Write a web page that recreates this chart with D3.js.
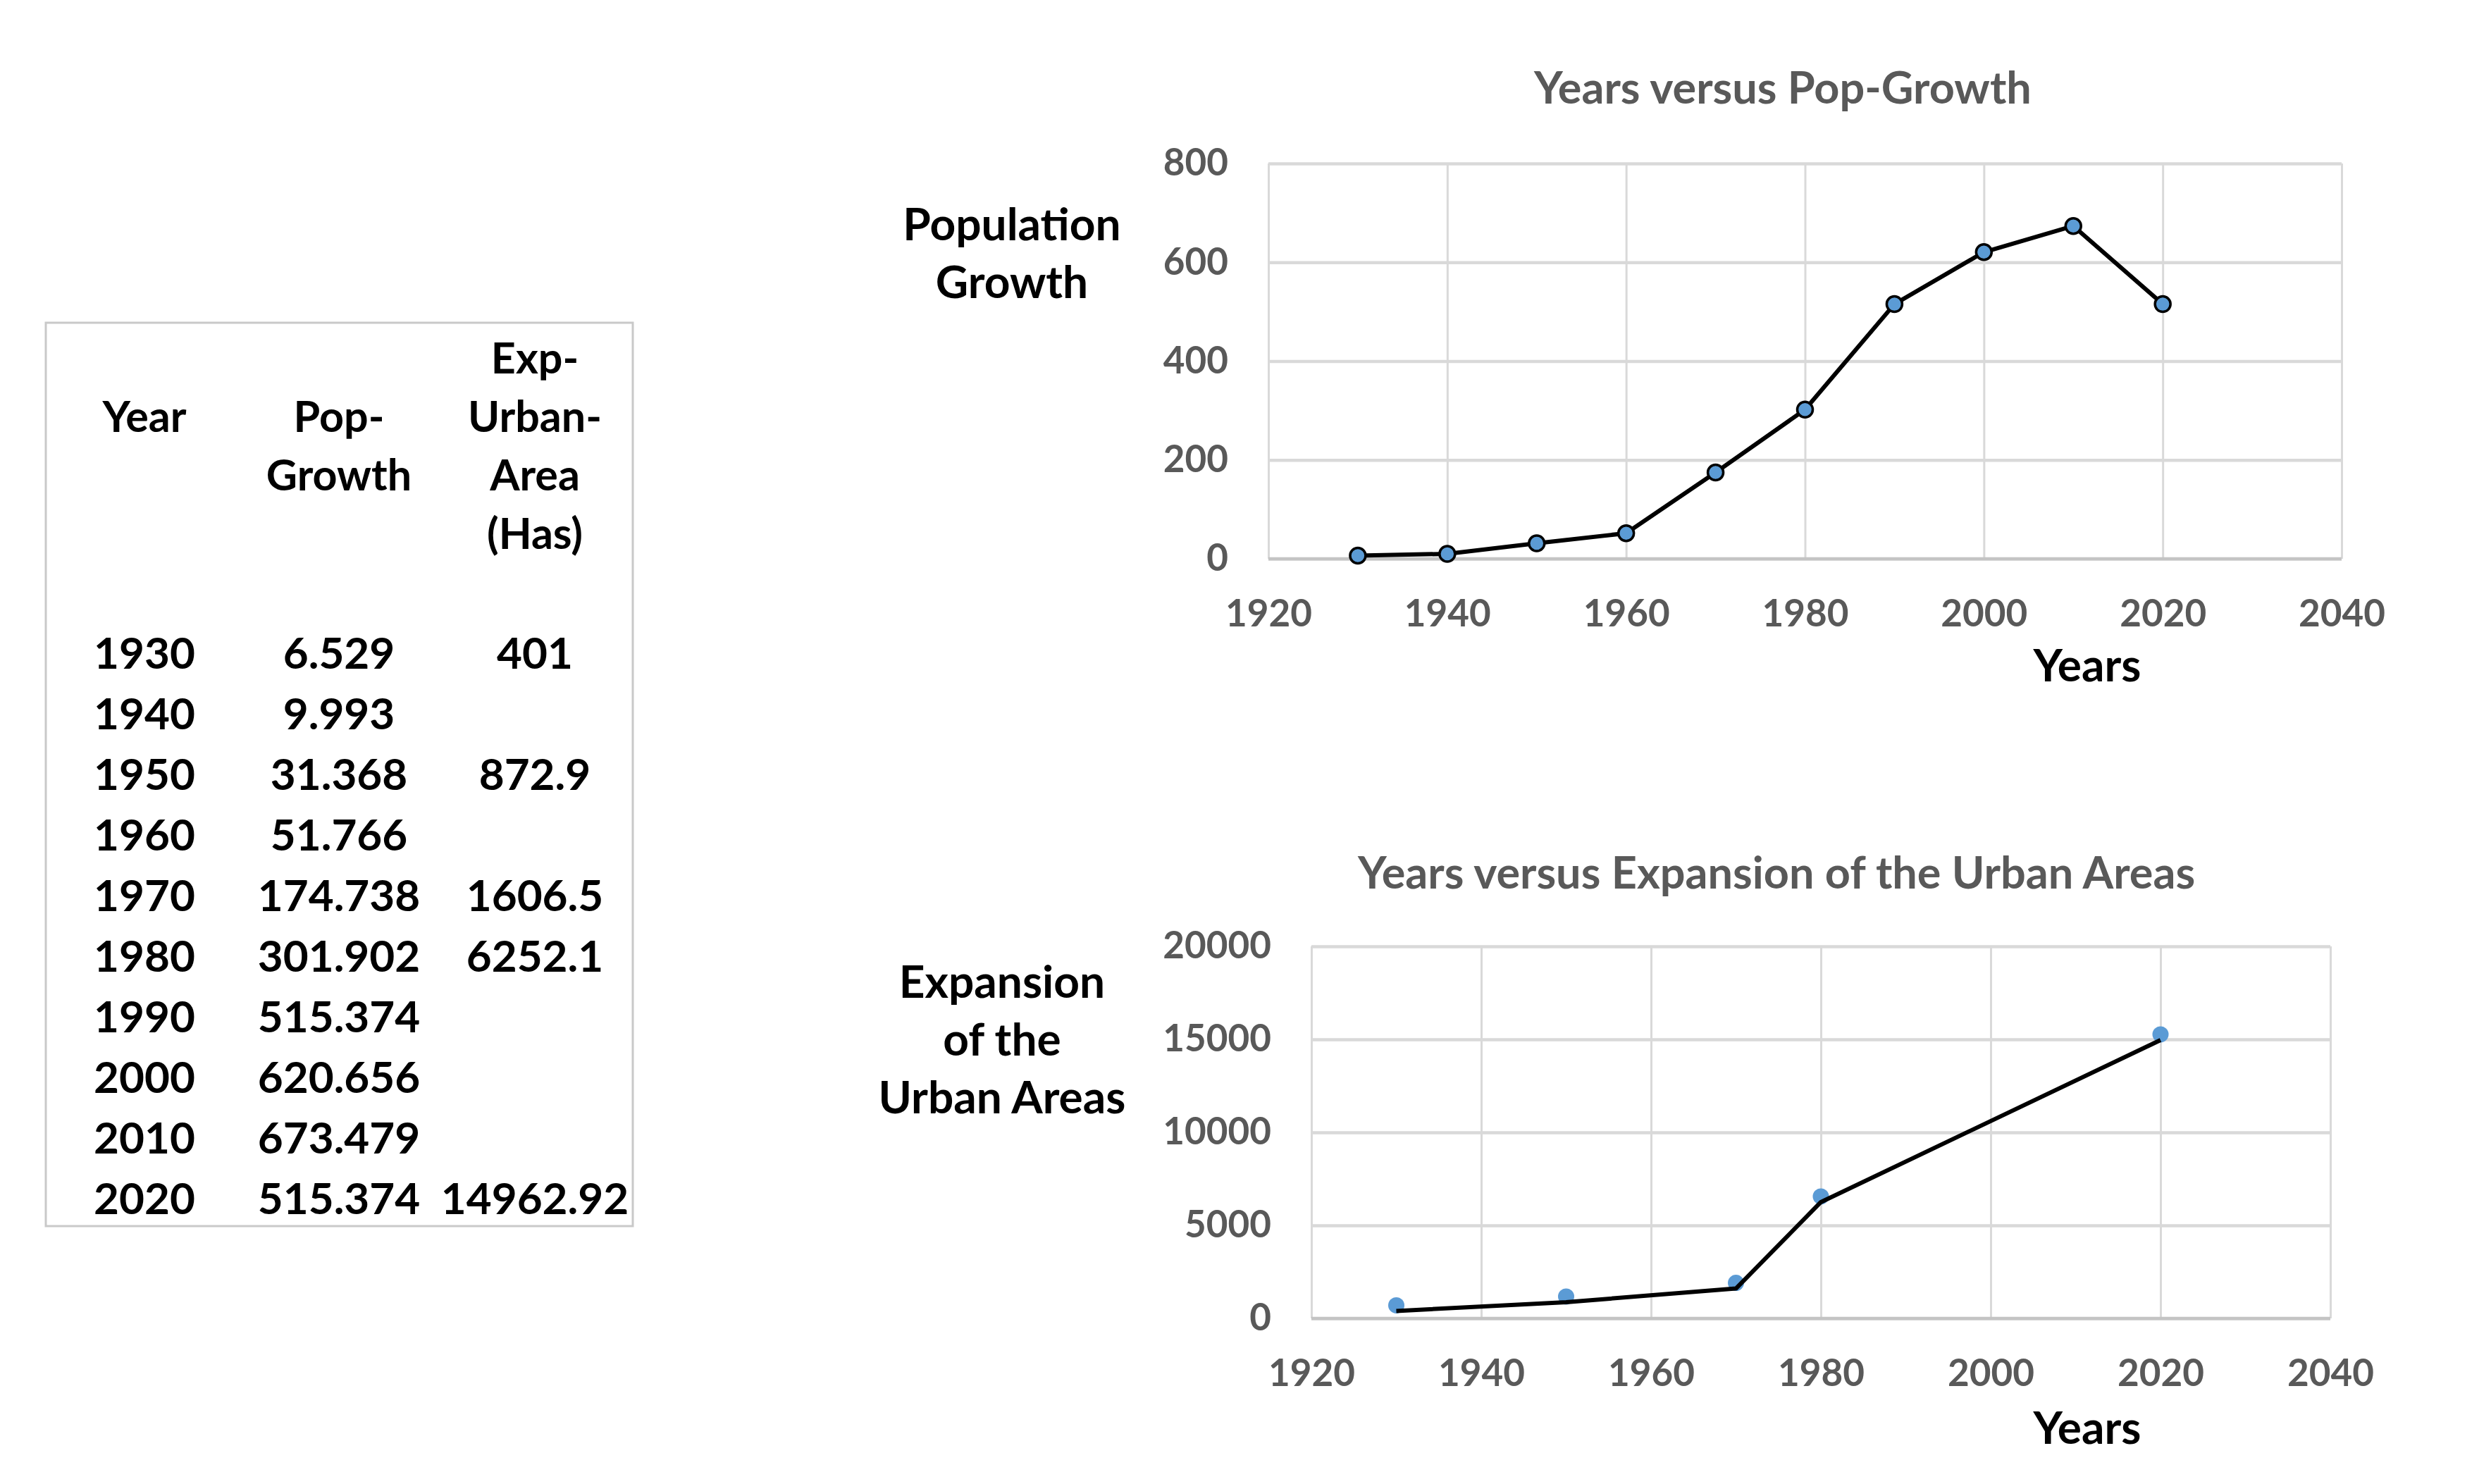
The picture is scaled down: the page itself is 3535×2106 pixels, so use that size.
<!DOCTYPE html>
<html>
<head>
<meta charset="utf-8">
<script src="https://cdn.jsdelivr.net/npm/d3@7"></script>
<style>
  html, body { margin: 0; padding: 0; background: #fff; }
  svg { display: block; }
  text { font-family: Lato, "Open Sans", sans-serif; font-weight: bold; }
</style>
</head>
<body>
<svg id="fig" width="3535" height="2106"></svg>
<script>
/*************************** Data ***************************/
var years = [1930, 1940, 1950, 1960, 1970, 1980, 1990, 2000, 2010, 2020];
var popGrowth = [6.529, 9.993, 31.368, 51.766, 174.738, 301.902, 515.374, 620.656, 673.479, 515.374];
var urbanYears = [1930, 1950, 1970, 1980, 2020];
var urbanArea = [401, 872.9, 1606.5, 6252.1, 14962.92];
var urbanLabels = ["401", "872.9", "1606.5", "6252.1", "14962.92"];
var xTicks = [1920, 1940, 1960, 1980, 2000, 2020, 2040];
var popTicks = [0, 200, 400, 600, 800];
var urbanTicks = [0, 5000, 10000, 15000, 20000];

var svg = d3.select("#fig");

/*************************** Table ***************************/
var table = svg.append("g").attr("id", "data_table");
table.append("rect")
    .attr("x", 65).attr("y", 458)
    .attr("width", 833).attr("height", 1282)
    .attr("fill", "none").attr("stroke", "#c9c9c9").attr("stroke-width", 3);

var colX = [205, 481, 759];
var headers = [["Year"], ["Pop-", "Growth"], ["Exp-", "Urban-", "Area", "(Has)"]];
var headerStart = [1, 1, 0];   // line index where each header begins
headers.forEach(function(lines, c) {
    lines.forEach(function(s, i) {
        table.append("text")
            .attr("x", colX[c])
            .attr("y", 530 + (headerStart[c] + i) * 83)
            .attr("text-anchor", "middle")
            .attr("font-size", 61)
            .attr("fill", "#000")
            .text(s);
    });
});

var rowY = d3.scaleLinear().domain([0, 9]).range([949, 949 + 9 * 86]);
years.forEach(function(yr, i) {
    var k = urbanYears.indexOf(yr);
    var cells = [String(yr), d3.format(".3f")(popGrowth[i]), k >= 0 ? urbanLabels[k] : ""];
    cells.forEach(function(s, c) {
        table.append("text")
            .attr("x", colX[c]).attr("y", rowY(i))
            .attr("text-anchor", "middle")
            .attr("font-size", 62)
            .attr("fill", "#000")
            .text(s);
    });
});

/*************************** Chart helper ***************************/
function draw_chart(cfg)
{
    var g = svg.append("g").attr("id", cfg.id);
    var x = d3.scaleLinear().domain([1920, 2040]).range([cfg.left, cfg.right]);
    var y = d3.scaleLinear().domain(cfg.yDomain).range([cfg.bottom, cfg.top]);

    // vertical grid
    g.append("g")
        .attr("transform", "translate(0," + cfg.bottom + ")")
        .call(d3.axisBottom(x).tickValues(xTicks).tickSize(-(cfg.bottom - cfg.top)).tickFormat(""))
        .call(function(a) { a.select(".domain").remove(); })
        .selectAll("line").attr("stroke", "#d9d9d9").attr("stroke-width", 3);

    // horizontal grid
    g.append("g")
        .attr("transform", "translate(" + cfg.left + ",0)")
        .call(d3.axisLeft(y).tickValues(cfg.yTicks).tickSize(-(cfg.right - cfg.left)).tickFormat(""))
        .call(function(a) { a.select(".domain").remove(); })
        .selectAll("line").attr("stroke", "#d9d9d9").attr("stroke-width", 4.5);

    // baseline
    g.append("line")
        .attr("x1", cfg.left).attr("x2", cfg.right)
        .attr("y1", y(0)).attr("y2", y(0))
        .attr("stroke", "#c4c4c4").attr("stroke-width", 4.5);

    // tick labels
    var xa = g.append("g")
        .attr("transform", "translate(0," + cfg.bottom + ")")
        .call(d3.axisBottom(x).tickValues(xTicks).tickSize(0).tickPadding(58).tickFormat(d3.format("d")));
    xa.select(".domain").remove();
    xa.selectAll("text").attr("font-size", 53).attr("fill", "#595959")
        .attr("font-family", "Lato, sans-serif");

    var ya = g.append("g")
        .attr("transform", "translate(" + cfg.left + ",0)")
        .call(d3.axisLeft(y).tickValues(cfg.yTicks).tickSize(0).tickPadding(57).tickFormat(d3.format("d")));
    ya.select(".domain").remove();
    ya.selectAll("text").attr("font-size", 53).attr("fill", "#595959")
        .attr("font-family", "Lato, sans-serif");

    // title
    g.append("text")
        .attr("x", cfg.titleX).attr("y", cfg.titleY)
        .attr("text-anchor", "middle")
        .attr("font-size", 63)
        .attr("fill", "#595959")
        .text(cfg.title);

    // y axis title
    var yt = g.append("text")
        .attr("text-anchor", "middle")
        .attr("font-size", 64)
        .attr("fill", "#000");
    cfg.yTitle.forEach(function(s, i) {
        yt.append("tspan").attr("x", cfg.yTitleX).attr("y", cfg.yTitleY + i * 82).text(s);
    });

    // x axis title
    g.append("text")
        .attr("x", cfg.xTitleX).attr("y", cfg.xTitleY)
        .attr("text-anchor", "middle")
        .attr("font-size", 64)
        .attr("fill", "#000")
        .text("Years");

    var pts = cfg.xs.map(function(d, i) { return { yr: d, v: cfg.vs[i] }; });
    var line = d3.line().x(function(d) { return x(d.yr); }).y(function(d) { return y(d.v); });

    if (cfg.markerBorder) {
        g.append("path").datum(pts)
            .attr("d", line)
            .attr("fill", "none").attr("stroke", "#000").attr("stroke-width", 6)
            .attr("stroke-linejoin", "round");
        g.selectAll("circle.pt").data(pts).enter().append("circle")
            .attr("class", "pt")
            .attr("cx", function(d) { return x(d.yr); })
            .attr("cy", function(d) { return y(d.v); })
            .attr("r", 11)
            .attr("fill", "#5b9bd5").attr("stroke", "#000").attr("stroke-width", 3.5);
    } else {
        g.selectAll("circle.pt").data(pts).enter().append("circle")
            .attr("class", "pt")
            .attr("cx", function(d) { return x(d.yr); })
            .attr("cy", function(d) { return y(d.v) - 8; })
            .attr("r", 11.5)
            .attr("fill", "#5b9bd5");
        g.append("path").datum(pts)
            .attr("d", line)
            .attr("fill", "none").attr("stroke", "#000").attr("stroke-width", 6)
            .attr("stroke-linejoin", "round");
    }
}

/*************************** Charts ***************************/
draw_chart({
    id: "pop_chart",
    left: 1800, right: 3323, top: 232, bottom: 793,
    yDomain: [0, 800], yTicks: popTicks,
    xs: years, vs: popGrowth,
    title: "Years versus Pop-Growth", titleX: 2530, titleY: 147,
    yTitle: ["Population", "Growth"], yTitleX: 1436, yTitleY: 341,
    xTitleX: 2962, xTitleY: 967,
    markerBorder: true
});

draw_chart({
    id: "urban_chart",
    left: 1861, right: 3307, top: 1343, bottom: 1871,
    yDomain: [0, 20000], yTicks: urbanTicks,
    xs: urbanYears, vs: urbanArea,
    title: "Years versus Expansion of the Urban Areas", titleX: 2521, titleY: 1261,
    yTitle: ["Expansion", "of the", "Urban Areas"], yTitleX: 1422, yTitleY: 1416,
    xTitleX: 2962, xTitleY: 2049,
    markerBorder: false
});
</script>
</body>
</html>
